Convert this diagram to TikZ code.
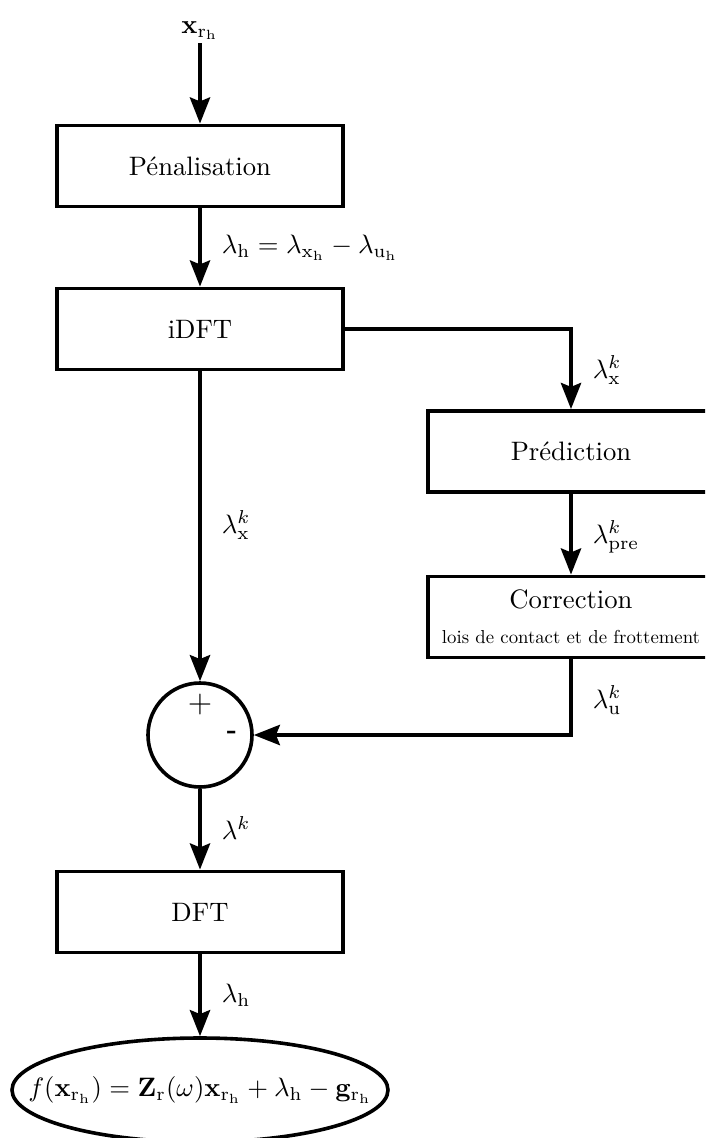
\documentclass[tikz,border=0pt]{standalone}
\usepackage{graphicx}
\usetikzlibrary{arrows.meta,shapes.geometric}
\begin{document}
\begin{tikzpicture}[x=0.375pt,y=-0.375pt,line width=1.35pt,
  >={Stealth[length=9.8pt,width=7.6pt,inset=1.5pt]},
  blk/.style={draw,rectangle,minimum width=107.25pt,minimum height=30.5pt,inner sep=0pt},
  lbl/.style={anchor=west,inner sep=0pt}]
\clip (0,0) rectangle (705,1138);
\node[inner sep=0.5pt,anchor=south] (in) at (200,43) {$\mathbf{x}_{\mathrm{r_h}}$};
\node[blk] (pen) at (200,166) {Pénalisation};
\node[blk] (idft) at (200,329) {iDFT};
\node[blk] (pred) at (571,451.5) {Prédiction};
\node[blk,align=center] (corr) at (571,617) {Correction\\[1pt]\resizebox{96.75pt}{!}{lois de contact et de frottement}};
\node[circle,draw,minimum size=39pt,inner sep=0pt] (sum) at (200,735) {};
\node (plus) at (200,704) {\large$+$};
\node (minus) at (232,735) {\textbf{-}};
\node[ellipse,draw,minimum width=141pt,minimum height=39pt,inner sep=0pt] (out) at (200,1090) {};
\node (outtxt) at (out.center) {$f(\mathbf{x}_{\mathrm{r_h}})=\mathbf{Z}_{\mathrm{r}}(\omega)\mathbf{x}_{\mathrm{r_h}}+\lambda_{\mathrm{h}}-\mathbf{g}_{\mathrm{r_h}}$};
\node[blk] (dft) at (200,912) {DFT};
\draw[->] (in.south) -- (pen.north);
\draw[->] (pen) -- (idft);
\draw[->] (idft.east) -| (pred.north);
\draw[->] (pred) -- (corr);
\draw[->] (corr.south) |- (sum.east);
\draw[->] (idft) -- (sum);
\draw[->] (sum) -- (dft);
\draw[->] (dft) -- (out);
\node[lbl] (l1) at (220,248) {$\lambda_{\mathrm{h}}=\lambda_{\mathrm{x_h}}-\lambda_{\mathrm{u_h}}$};
\node[lbl] (l2) at (591,370) {$\lambda_{\mathrm{x}}^{k}$};
\node[lbl] (l3) at (591,537) {$\lambda_{\mathrm{pre}}^{k}$};
\node[lbl] (l4) at (591,700) {$\lambda_{\mathrm{u}}^{k}$};
\node[lbl] (l5) at (220,525) {$\lambda_{\mathrm{x}}^{k}$};
\node[lbl] (l6) at (220,828) {$\lambda^{k}$};
\node[lbl] (l7) at (220,995) {$\lambda_{\mathrm{h}}$};
\end{tikzpicture}
\end{document}
